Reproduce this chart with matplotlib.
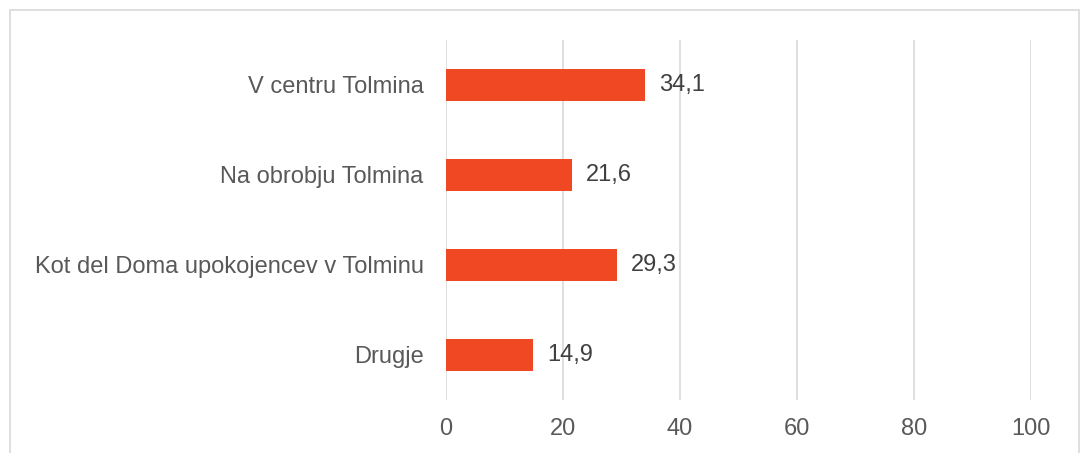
import matplotlib.pyplot as plt
from matplotlib.patches import Rectangle

categories = ['V centru Tolmina', 'Na obrobju Tolmina',
              'Kot del Doma upokojencev v Tolminu', 'Drugje']
values = [34.1, 21.6, 29.3, 14.9]
ticks = [0, 20, 40, 60, 80, 100]

plt.rcParams['font.family'] = ['Liberation Sans', 'DejaVu Sans']
tick_color = '#595959'
value_color = '#404040'

fig = plt.figure(figsize=(10.85, 4.53), dpi=100)
ax = fig.add_axes([0.411, 0.117, 0.539, 0.795])

y = list(range(len(categories)))
ax.barh(y, values, height=0.35, color='#EF4823', zorder=3)
for yi, v in zip(y, values):
    ax.text(v + 2.4, yi, f'{v:.1f}'.replace('.', ','), va='center', ha='left',
            fontsize=17, color=value_color)

ax.set_xlim(0, 100)
ax.set_ylim(len(categories) - 0.5, -0.5)
ax.set_xticks(ticks)
ax.set_xticklabels([str(t) for t in ticks], fontsize=17, color=tick_color)
ax.set_yticks(y)
ax.set_yticklabels(categories, fontsize=17, color=tick_color)
ax.tick_params(axis='x', length=0, pad=13)
ax.tick_params(axis='y', length=0, pad=16)
ax.grid(axis='x', color='#D9D9D9', linewidth=1.2, zorder=0)
for s in ax.spines.values():
    s.set_visible(False)

fig.patches.append(Rectangle((10 / 1085, -0.1), 1069 / 1085, 1 - 10 / 453 + 0.1,
                             transform=fig.transFigure, fill=False,
                             edgecolor='#D9D9D9', linewidth=1.2))

fig.savefig('out.png', dpi=100)
